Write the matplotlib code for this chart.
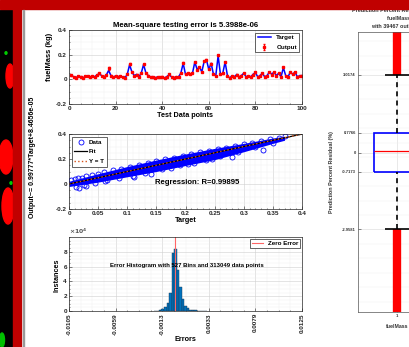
import numpy as np
import matplotlib.pyplot as plt
from matplotlib.patches import Rectangle, Ellipse

plt.rcParams['font.family'] = ['Liberation Sans', 'DejaVu Sans']
plt.rcParams['font.weight'] = 'bold'
plt.rcParams['axes.labelweight'] = 'bold'

W, H = 410, 347

# ---- data: test data points ----
test_idx = list(range(1, 101))
target = [0.030, 0.022, 0.012, 0.028, 0.020, 0.012, 0.024, 0.030, 0.018, 0.026,
          0.020, 0.036, 0.046, 0.030, 0.020, 0.034, 0.072, 0.030, 0.018, 0.028,
          0.020, 0.030, 0.018, 0.012, 0.040, 0.118, 0.060, 0.030, 0.040, 0.020,
          0.050, 0.120, 0.052, 0.030, 0.020, 0.022, 0.012, 0.020, 0.018, 0.020,
          0.012, 0.022, 0.038, 0.020, 0.012, 0.022, 0.020, 0.050, 0.130, 0.040,
          0.050, 0.040, 0.050, 0.140, 0.080, 0.100, 0.060, 0.145, 0.158, 0.080,
          0.130, 0.040, 0.030, 0.190, 0.040, 0.050, 0.140, 0.030, 0.010, 0.030,
          0.020, 0.040, 0.020, 0.030, 0.050, 0.020, 0.030, 0.020, 0.040, 0.055,
          0.020, 0.030, 0.050, 0.020, 0.030, 0.060, 0.040, 0.060, 0.030, 0.050,
          0.020, 0.095, 0.030, 0.020, 0.060, 0.040, 0.060, 0.020, 0.030, 0.030]
output = [0.032, 0.020, 0.014, 0.027, 0.022, 0.011, 0.025, 0.028, 0.020, 0.025,
          0.022, 0.034, 0.048, 0.029, 0.021, 0.035, 0.088, 0.031, 0.019, 0.027,
          0.021, 0.029, 0.020, 0.013, 0.041, 0.125, 0.058, 0.031, 0.038, 0.022,
          0.049, 0.124, 0.050, 0.031, 0.021, 0.020, 0.014, 0.021, 0.017, 0.022,
          0.013, 0.021, 0.040, 0.019, 0.014, 0.021, 0.022, 0.049, 0.135, 0.041,
          0.048, 0.042, 0.049, 0.142, 0.078, 0.102, 0.058, 0.148, 0.160, 0.082,
          0.128, 0.042, 0.029, 0.195, 0.041, 0.048, 0.142, 0.031, 0.012, 0.029,
          0.022, 0.038, 0.021, 0.031, 0.049, 0.021, 0.029, 0.022, 0.039, 0.056,
          0.021, 0.031, 0.048, 0.022, 0.029, 0.061, 0.039, 0.058, 0.031, 0.049,
          0.022, 0.098, 0.029, 0.021, 0.059, 0.041, 0.058, 0.022, 0.029, 0.031]

# ---- data: regression ----
fit_slope, fit_icpt = 0.99777, 8.4656e-05
band_t = [0.0, 0.05, 0.10, 0.15, 0.20, 0.25, 0.30, 0.35, 0.37]
band_lo = [-0.020, 0.015, 0.058, 0.100, 0.148, 0.195, 0.258, 0.325, 0.350]
band_hi = [0.022, 0.082, 0.140, 0.192, 0.240, 0.285, 0.325, 0.368, 0.382]
reg_target = [0.003, 0.010, 0.015, 0.022, 0.030, 0.040, 0.050, 0.060, 0.075, 0.090,
              0.105, 0.120, 0.135, 0.150, 0.165, 0.180, 0.195, 0.210, 0.225, 0.240,
              0.255, 0.270, 0.285, 0.300, 0.315, 0.330, 0.345, 0.360, 0.370,
              0.012, 0.025, 0.045, 0.065, 0.085, 0.110, 0.130, 0.160, 0.190, 0.205,
              0.235, 0.245, 0.260, 0.290, 0.320, 0.350, 0.018, 0.333, 0.280, 0.112,
              0.140, 0.175, 0.215, 0.062, 0.030]
reg_output = [0.030, 0.040, 0.045, 0.052, 0.062, 0.072, 0.084, 0.094, 0.110, 0.124,
              0.140, 0.154, 0.170, 0.184, 0.198, 0.212, 0.226, 0.240, 0.254, 0.268,
              0.280, 0.292, 0.306, 0.318, 0.330, 0.346, 0.360, 0.372, 0.382,
              -0.022, -0.005, 0.012, 0.032, 0.050, 0.066, 0.088, 0.118, 0.150, 0.164,
              0.190, 0.200, 0.222, 0.255, 0.296, 0.330, -0.032, 0.272, 0.218, 0.058,
              0.082, 0.125, 0.165, 0.022, -0.012]
reg_R = 0.99895

# ---- data: error histogram ----
hist_centers = [-0.0020, -0.00175, -0.0015, -0.00125, -0.0010, -0.00075, -0.0005,
                -0.00025, 0.0, 0.00025, 0.0005, 0.00075, 0.0010, 0.00125, 0.0015,
                0.00175, 0.0020, 0.00225, 0.0025, 0.00275, 0.0030]
hist_counts = [300, 600, 1200, 2500, 5000, 11000, 24000, 78000, 84000, 56000, 33000,
               16000, 7000, 3500, 2000, 1300, 900, 600, 400, 250, 120]
hist_ticks = [-0.0105, -0.0059, -0.0013, 0.0033, 0.0079, 0.0125]
n_bins, n_points = 527, 313049

# ---- data: residual boxplot ----
box_q1, box_med, box_q3 = -0.7173, 0.06, 0.7766
whisk_lo, whisk_hi = -2.9581, 3.0174
flier_lo = [-6.3, -2.9581]
flier_hi = [3.0174, 4.8]
n_outliers = 39467
box_ticks = [3.0174, 0.7766, 0, -0.7173, -2.9581]


def fx(px):
    return px / W


def fy(py):
    return 1 - py / H


def style(ax):
    ax.minorticks_on()
    ax.grid(which='major', color='#cfcfcf', lw=0.4)
    ax.grid(which='minor', color='#ededed', lw=0.3)
    ax.set_axisbelow(True)
    ax.tick_params(which='both', direction='in', labelsize=4.6, pad=1.5,
                   width=0.4, colors='#262626')
    ax.tick_params(which='major', length=2)
    ax.tick_params(which='minor', length=1)
    for s in ax.spines.values():
        s.set_linewidth(0.5)
        s.set_color('#262626')


def legend_frame(lg):
    lg.get_frame().set_linewidth(0.5)


fig = plt.figure(figsize=(W / 100, H / 100), dpi=100)

# top: test data
ax1 = fig.add_axes([fx(69), fy(104), fx(233), 74 / H])
style(ax1)
ax1.plot(test_idx, target, color='blue', lw=1.1, label='Target')
err = np.abs(np.array(output) - np.array(target))
ax1.errorbar(test_idx, output, yerr=err, fmt='s', ms=1.6, color='red',
             elinewidth=0.8, capsize=0.8, label='Output')
ax1.set_xlim(0, 100)
ax1.set_ylim(-0.2, 0.4)
ax1.set_xticks([0, 20, 40, 60, 80, 100])
ax1.set_yticks([-0.2, 0, 0.2, 0.4])
ax1.set_yticklabels(['-0.2', '0', '0.2', '0.4'])
ax1.set_title('Mean-square testing error is 5.3988e-06', fontsize=5.6,
              fontweight='bold', pad=2.5)
ax1.set_xlabel('Test Data points', fontsize=5.2, labelpad=1)
legend_frame(ax1.legend(loc='upper right', fontsize=4.5, handlelength=2.2,
                        borderpad=0.4, labelspacing=0.65, fancybox=False,
                        edgecolor='#262626', framealpha=1, borderaxespad=0.4))
fig.text(fx(50), fy(57), 'fuelMass (kg)', rotation=90, fontsize=5.4,
         ha='center', va='center')

# middle: regression
ax2 = fig.add_axes([fx(69), fy(209), fx(233), 75 / H])
style(ax2)
ax2.fill_between(band_t, band_lo, band_hi, color='blue', lw=0)
ax2.plot(reg_target, reg_output, 'o', mfc='none', mec='blue', ms=3.6,
         mew=0.6, label='Data')
fit_x = np.array([0, 0.4])
ax2.plot(fit_x, fit_slope * fit_x + fit_icpt, color='black', lw=0.9, label='Fit')
ax2.plot(fit_x, fit_x, ':', color='#d95319', lw=1.0, label='Y = T')
ax2.set_xlim(0, 0.4)
ax2.set_ylim(-0.2, 0.4)
ax2.set_xticks([0, 0.05, 0.1, 0.15, 0.2, 0.25, 0.3, 0.35, 0.4])
ax2.set_xticklabels(['0', '0.05', '0.1', '0.15', '0.2', '0.25', '0.3', '0.35', '0.4'])
ax2.set_yticks([-0.2, 0, 0.2, 0.4])
ax2.set_yticklabels(['-0.2', '0', '0.2', '0.4'])
ax2.set_xlabel('Target', fontsize=5.2, labelpad=1)
ax2.text(0.22, 0.01, 'Regression: R=%.5f' % reg_R, fontsize=5.6, ha='center',
         va='center')
legend_frame(ax2.legend(loc='upper left', fontsize=4.5, handlelength=2.0,
                        borderpad=0.45, labelspacing=0.7, fancybox=False,
                        edgecolor='#262626', framealpha=1, borderaxespad=0.4,
                        handletextpad=0.3))
fig.text(fx(33), fy(157), 'Output~= 0.99777*Target+8.4656e-05', rotation=90,
         fontsize=5.0, ha='center', va='center')

# bottom: error histogram
ax3 = fig.add_axes([fx(69), fy(311), fx(233), 74 / H])
style(ax3)
ax3.bar(hist_centers, hist_counts, width=0.00025, color=(0, 0.447, 0.741),
        edgecolor='#1b3550', lw=0.3)
ax3.axvline(0, color='#ff6666', lw=0.8, label='Zero Error')
ax3.set_xlim(hist_ticks[0], hist_ticks[-1])
ax3.set_ylim(0, 100000)
ax3.set_xticks(hist_ticks)
ax3.set_xticklabels(['%.4f' % v for v in hist_ticks], rotation=90)
ax3.set_yticks([0, 20000, 40000, 60000, 80000])
ax3.set_yticklabels(['0', '2', '4', '6', '8'])
ax3.text(0.0, 1.015, r'$\times10^4$', transform=ax3.transAxes, fontsize=4.4,
         color='#555555', va='bottom')
ax3.text(0.0011, 62000,
         'Error Histogram with %d Bins and %d data points' % (n_bins, n_points),
         fontsize=4.3, ha='center', va='center')
ax3.set_xlabel('Errors', fontsize=5.2, labelpad=1)
legend_frame(ax3.legend(loc='upper right', fontsize=4.5, handlelength=1.8,
                        borderpad=0.3, fancybox=False, edgecolor='#262626',
                        framealpha=1, borderaxespad=0.3))
fig.text(fx(57), fy(275), 'Instances', rotation=90, fontsize=5.2,
         ha='center', va='center')

# right: residual boxplot (cut by the screenshot)
ax4 = fig.add_axes([fx(358), fy(312), fx(94), 280 / H])
ax4.minorticks_on()
ax4.grid(which='major', color='#d8d8d8', lw=0.4)
ax4.grid(which='minor', color='#efefef', lw=0.3)
ax4.set_axisbelow(True)
for s in ax4.spines.values():
    s.set_linewidth(0.5)
    s.set_color('#555555')
pos, bw, cw = 1.0, 0.59, 0.295
ax4.vlines(pos, flier_hi[0], flier_hi[1], color='red', lw=6)
ax4.vlines(pos, flier_lo[0], flier_lo[1], color='red', lw=6)
ax4.vlines(pos, box_q3, whisk_hi, color='black', lw=1.2, linestyles=(0, (3, 2.5)))
ax4.vlines(pos, whisk_lo, box_q1, color='black', lw=1.2, linestyles=(0, (3, 2.5)))
ax4.hlines([whisk_lo, whisk_hi], pos - cw / 2, pos + cw / 2, color='black', lw=1.2)
ax4.add_patch(Rectangle((pos - bw / 2, box_q1), bw, box_q3 - box_q1,
                        fill=False, ec='blue', lw=1.2))
ax4.hlines(box_med, pos - bw / 2, pos + bw / 2, color='red', lw=0.9)
ax4.set_xlim(0.5, 1.705)
ax4.set_ylim(-6.15, 4.68)
ax4.set_yticks(box_ticks)
ax4.set_yticklabels(['3.0174', '0.7766', '0', '-0.7173', '-2.9581'])
ax4.set_xticks([pos])
ax4.set_xticklabels(['1'])
ax4.tick_params(which='both', direction='in', labelsize=3.0, pad=1.5,
                width=0.4, colors='#333333')
ax4.tick_params(which='major', length=2)
ax4.tick_params(which='minor', length=0)
fig.text(fx(397), fy(327), 'fuelMass', fontsize=3.8, ha='center', va='center',
         color='#333333')
fig.text(fx(332), fy(172), 'Prediction Percent Residual (%)', rotation=90,
         fontsize=3.9, ha='center', va='center', color='#333333')
# title lines are cut by the right edge and the red bar, as in the screenshot
fig.text(fx(352), fy(10.5), 'Prediction Percent Residual', fontsize=3.9,
         va='center', color='#333333')
fig.text(fx(387), fy(18.5), 'fuelMass (kg)', fontsize=3.9, va='center',
         color='#333333')
fig.text(fx(371), fy(27), 'with %d outliers' % n_outliers, fontsize=3.9,
         va='center', color='#333333')

# screenshot frame: black strip with blobs, red bars
deco = [Rectangle((0, fy(347)), fx(13), fy(10) - fy(347), color='black'),
        Ellipse((fx(10), fy(76)), fx(8), 24 / H, color='red'),
        Ellipse((fx(6), fy(157)), fx(14), 34 / H, color='red'),
        Ellipse((fx(8), fy(206)), fx(12), 36 / H, color='red'),
        Ellipse((fx(2), fy(340)), fx(5), 14 / H, color='#00c000'),
        Ellipse((fx(6), fy(53)), fx(2), 2.5 / H, color='#00d000'),
        Ellipse((fx(11), fy(183)), fx(2), 2.5 / H, color='#00d000'),
        Rectangle((fx(13), 0), fx(8), 1, color='#c00000'),
        Rectangle((0, fy(9)), 1, 9 / H, color='#c00000'),
        Rectangle((fx(23.5), 0), fx(0.8), fy(10), color='#9a9a9a')]
for p in deco:
    p.set_transform(fig.transFigure)
    p.set_zorder(10)
    fig.add_artist(p)

fig.savefig('out.png', dpi=100)
